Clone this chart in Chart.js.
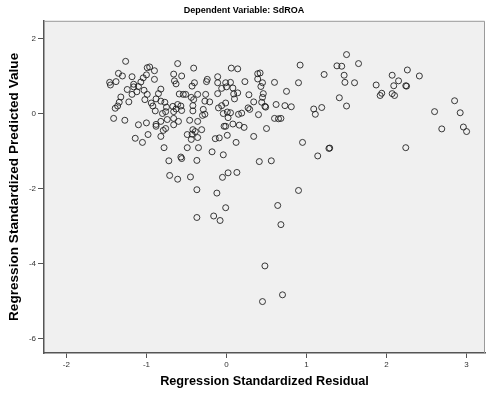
<!DOCTYPE html>
<html>
<head>
    <title>Dependent Variable: SdROA</title>
    <script src="https://cdn.jsdelivr.net/npm/chart.js"></script>
    <style>
        body {
            margin: 0;
            background-color: white;
        }
        #residChart {
            display: block;
        }
    </style>
</head>
<body>
    <canvas id="residChart" width="489" height="395"></canvas>

    <script>
        // Regression Standardized Residual (x) and Predicted Value (y), one entry per case
        const residuals = [
            -1.26, -0.99, -0.96, -1.35, -1.30, -1.18, -0.90, -0.61, -0.66, -0.56,
            -1.46, -1.45, -1.38, -1.00, -1.04, -1.07, -0.90, -0.65, -0.63, -1.16,
            -1.16, -1.24, -1.10, -1.12, -1.18, -1.03, -0.99, -0.82, -0.85, -1.32,
            -1.34, -1.22, -1.36, -1.39, -1.02, -0.94, -0.92, -0.88, -0.82, -0.77,
            -0.59, -0.54, -0.51, -0.67, -0.61, -0.57, -0.63, -0.75, -0.89, -0.80,
            -0.76, -0.66, -0.56, -1.41, -1.27, -1.10, -1.00, -0.88, -0.88, -0.82,
            -0.74, -0.66, -0.60, -0.66, -0.79, -0.76, -0.98, -1.14, -1.05, -0.82,
            -0.78, -0.49, -0.49, -0.46,
            -0.41, -0.40, -0.43, -0.24, -0.25, -0.11, 0.06, 0.14, 0.39, 0.42,
            0.39, 0.45, 0.43, 0.60, 0.92, 1.22, 0.90, 0.23, -0.11, -0.01,
            0.05, -0.06, 0.00, 0.08, -0.36, -0.26, -0.11, 0.09, 0.14, 0.28,
            0.46, -0.44, -0.41, -0.27, -0.21, 0.10, 0.34, 0.44, 0.45, -0.42,
            -0.42, -0.29, -0.27, -0.10, -0.06, -0.01, -0.04, 0.01, 0.05, 0.02,
            0.15, 0.19, 0.27, 0.29, 0.40, 0.48, 0.49, 0.62, 0.73, 0.81,
            0.75, 1.09, 1.11, 1.19, -0.36, -0.30, -0.03, -0.01, 0.08, 0.16,
            0.22, 0.50, 0.60, 0.65, 0.68, -0.42, -0.39, -0.43, -0.31, -0.36,
            -0.44, -0.14, -0.09, 0.01, 0.34, 0.12, 0.95, -0.35, -0.18, 1.28,
            1.29,
            1.50, 1.38, 1.44, 1.65, 1.47, 1.48, 1.60, 1.41, 1.50, 1.87,
            2.07, 2.26, 2.41, 2.15, 2.09, 2.24, 2.25, 1.94, 1.92, 2.07,
            2.10, 2.85, 2.60, 2.92, 2.69, 2.96, 3.00, 2.24,
            -0.72, -0.57, -0.56, -0.71, -0.61, -0.45, -0.37, -0.04, 0.41, 0.56,
            1.14, -0.37, -0.12, -0.05, 0.02, 0.13, 0.90, -0.01, 0.64, -0.37,
            -0.16, -0.08, 0.68, 0.48, 0.70, 0.45
        ];
        const predicted = [
            1.39, 1.22, 1.24, 1.07, 1.00, 0.98, 1.14, 1.33, 1.05, 1.00,
            0.83, 0.76, 0.85, 1.03, 0.95, 0.84, 0.91, 0.87, 0.79, 0.78,
            0.71, 0.64, 0.72, 0.58, 0.51, 0.62, 0.51, 0.65, 0.53, 0.44,
            0.30, 0.31, 0.20, 0.14, 0.37, 0.28, 0.20, 0.39, 0.33, 0.30,
            0.52, 0.51, 0.51, 0.19, 0.24, 0.20, 0.12, 0.17, 0.07, 0.00,
            0.05, 0.05, 0.08, -0.13, -0.18, -0.30, -0.25, -0.29, -0.34, -0.21,
            -0.16, -0.13, -0.21, -0.30, -0.45, -0.40, -0.56, -0.66, -0.77, -0.61,
            -0.91, -0.56, -0.91, -0.18,
            1.21, 0.82, 0.73, 0.91, 0.85, 0.98, 1.21, 1.19, 1.06, 1.08,
            0.92, 0.82, 0.72, 0.83, 1.29, 1.04, 0.82, 0.85, 0.82, 0.82,
            0.83, 0.67, 0.71, 0.68, 0.51, 0.51, 0.53, 0.52, 0.55, 0.50,
            0.53, 0.43, 0.37, 0.33, 0.31, 0.39, 0.31, 0.30, 0.43, 0.21,
            0.07, 0.11, -0.02, 0.15, 0.21, 0.28, 0.00, 0.04, 0.02, -0.11,
            -0.02, 0.01, 0.15, 0.11, -0.03, 0.19, 0.17, 0.24, 0.21, 0.18,
            0.59, 0.12, -0.02, 0.16, -0.21, -0.05, -0.34, -0.34, -0.28, -0.31,
            -0.37, -0.40, -0.13, -0.14, -0.13, -0.43, -0.48, -0.55, -0.43, -0.64,
            -0.69, -0.67, -0.65, -0.58, -0.61, -0.77, -0.77, -0.91, -1.02, -0.93,
            -0.92,
            1.57, 1.27, 1.26, 1.33, 1.02, 0.83, 0.82, 0.42, 0.20, 0.76,
            1.02, 1.16, 1.00, 0.87, 0.74, 0.74, 0.73, 0.54, 0.48, 0.53,
            0.48, 0.34, 0.05, 0.02, -0.41, -0.36, -0.48, -0.91,
            -1.26, -1.16, -1.20, -1.65, -1.75, -1.69, -1.25, -1.10, -1.28, -1.26,
            -1.13, -2.03, -2.12, -1.70, -1.58, -1.57, -2.05, -2.51, -2.45, -2.77,
            -2.73, -2.85, -2.96, -4.06, -4.83, -5.01
        ];

        const xTicks = [-2, -1, 0, 1, 2, 3];
        const yTicks = [-6, -4, -2, 0, 2];

        const points = residuals.map((r, i) => ({ x: r, y: predicted[i] }));

        // grey plot panel behind the points, thin frame on top/right
        const panel = {
            id: 'panel',
            beforeDraw(chart) {
                const a = chart.chartArea;
                const c = chart.ctx;
                c.save();
                c.fillStyle = '#f0f0f0';
                c.fillRect(a.left, a.top, a.right - a.left, a.bottom - a.top);
                c.restore();
            },
            afterDraw(chart) {
                const a = chart.chartArea;
                const c = chart.ctx;
                c.save();
                c.strokeStyle = '#9a9a9a';
                c.lineWidth = 1;
                c.beginPath();
                c.moveTo(a.left, a.top + 0.5);
                c.lineTo(a.right - 0.5, a.top + 0.5);
                c.lineTo(a.right - 0.5, a.bottom);
                c.stroke();
                c.restore();
            }
        };

        const tickFont = { family: 'Liberation Sans', size: 8 };

        new Chart(document.getElementById('residChart'), {
            type: 'scatter',
            data: {
                datasets: [{
                    data: points,
                    pointRadius: 3,
                    pointHoverRadius: 3,
                    pointStyle: 'circle',
                    borderWidth: 1,
                    borderColor: 'rgba(25,25,25,0.85)',
                    backgroundColor: 'rgba(0,0,0,0)'
                }]
            },
            options: {
                responsive: false,
                animation: false,
                devicePixelRatio: 1,
                layout: { padding: { right: 1 } },
                plugins: {
                    legend: { display: false },
                    tooltip: { enabled: false },
                    title: {
                        display: true,
                        text: 'Dependent Variable: SdROA',
                        color: '#000',
                        font: { family: 'Liberation Sans', size: 9, weight: 'bold' },
                        padding: { top: 5, bottom: 5 }
                    }
                },
                scales: {
                    x: {
                        type: 'linear',
                        min: -2.28,
                        max: 3.23,
                        afterBuildTicks: s => { s.ticks = xTicks.map(v => ({ value: v })); },
                        afterFit: s => { s.height = 42; },
                        ticks: { font: tickFont, color: '#333', padding: 2 },
                        grid: { drawOnChartArea: false, tickLength: 5, color: '#555' },
                        border: { color: '#555', width: 1.5 },
                        title: {
                            display: true,
                            text: 'Regression Standardized Residual',
                            color: '#000',
                            font: { family: 'Liberation Sans', size: 12.7, weight: 'bold' },
                            padding: { top: 0, bottom: 5.5 }
                        }
                    },
                    y: {
                        type: 'linear',
                        min: -6.38,
                        max: 2.47,
                        afterBuildTicks: s => { s.ticks = yTicks.map(v => ({ value: v })); },
                        afterFit: s => { s.width = 44; },
                        ticks: { font: tickFont, color: '#333', padding: 2 },
                        grid: { drawOnChartArea: false, tickLength: 6, color: '#555' },
                        border: { color: '#555', width: 1.5 },
                        title: {
                            display: true,
                            text: 'Regression Standardized Predicted Value',
                            color: '#000',
                            font: { family: 'Liberation Sans', size: 13.6, weight: 'bold' },
                            padding: { top: 5.8, bottom: 0 }
                        }
                    }
                }
            },
            plugins: [panel]
        });
    </script>
</body>
</html>
